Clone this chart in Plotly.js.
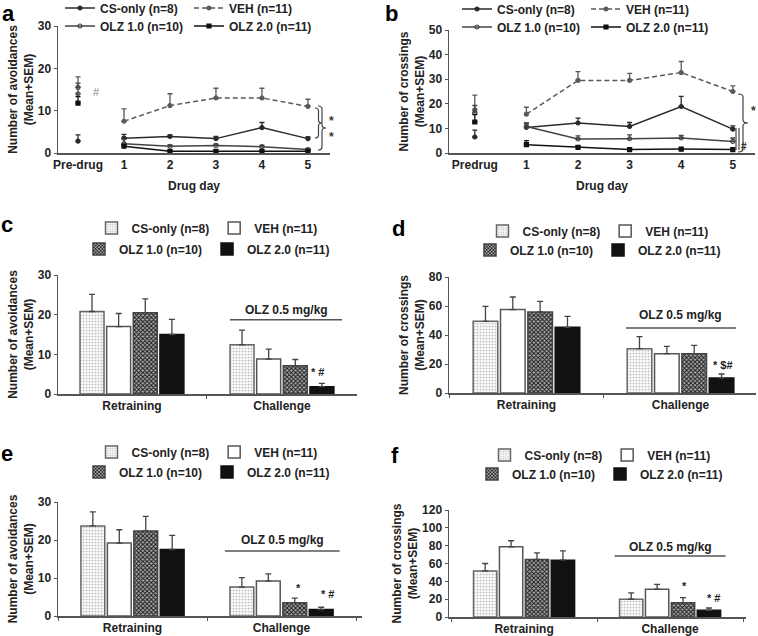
<!DOCTYPE html>
<html><head><meta charset="utf-8">
<script src="https://cdn.plot.ly/plotly-3.0.1.min.js"></script>
<style>html,body{margin:0;padding:0;background:#fff}</style>
</head><body>
<div id="chart" style="width:758px;height:636px"></div>
<script>
// ---------------- DATA ----------------
const groups = ['CS-only (n=8)', 'VEH (n=11)', 'OLZ 1.0 (n=10)', 'OLZ 2.0 (n=11)'];
const catsA = ['Pre-drug', '1', '2', '3', '4', '5'];
const catsB = ['Predrug', '1', '2', '3', '4', '5'];
const days = ['1', '2', '3', '4', '5'];
const phases = ['Retraining', 'Challenge'];

// Panel a: avoidances (order: CS-only, VEH, OLZ 1.0, OLZ 2.0)
const aPreMean = [2.8, 14.0, 15.5, 11.8];
const aPreSem  = [1.5, 4.0, 1.0, 1.5];
const aMean = [[3.5, 3.9, 3.4, 6.0, 3.4], [7.5, 11.2, 13.0, 13.0, 11.0], [2.2, 1.6, 1.8, 1.5, 0.8], [1.6, 0.4, 0.4, 0.4, 0.4]];
const aSem  = [[0.9, 0.4, 0.5, 1.2, 0.4], [2.9, 2.8, 2.3, 2.3, 1.7], [1.0, 0.3, 0.3, 0.3, 0.3], [0.4, 0.2, 0.2, 0.2, 0.2]];

// Panel b: crossings
const bPreMean = [6.5, 17.5, 16.3, 12.6];
const bPreSem  = [2.8, 6.0, 3.0, 3.0];
const bMean = [[10.4, 12.2, 10.8, 18.9, 9.7], [15.8, 29.5, 29.5, 32.7, 25.0], [10.8, 5.7, 5.8, 6.1, 4.7], [3.4, 2.3, 1.4, 1.6, 1.4]];
const bSem  = [[1.8, 2.0, 1.6, 4.1, 1.3], [2.8, 3.6, 2.9, 4.5, 2.3], [1.2, 1.3, 1.6, 1.1, 1.4], [1.6, 0.5, 0.5, 0.5, 0.5]];

// Panels c-f: bars [Retraining, Challenge] per group
const cMean = [[20.8, 12.4], [17.0, 8.8], [20.5, 7.1], [15.0, 1.85]];
const cSem  = [[4.3, 3.7], [3.3, 2.5], [3.5, 1.6], [3.8, 0.85]];
const dMean = [[49.4, 30.6], [57.5, 27.1], [55.9, 27.1], [45.3, 10.3]];
const dSem  = [[10.4, 8.3], [8.7, 5.1], [7.3, 5.8], [7.6, 2.8]];
const eMean = [[23.7, 7.6], [19.2, 9.2], [22.4, 3.5], [17.5, 1.7]];
const eSem  = [[3.7, 2.5], [3.5, 1.9], [3.8, 1.2], [3.7, 0.6]];
const fMean = [[51.7, 19.9], [78.7, 31.1], [64.5, 16.1], [63.7, 7.5]];
const fSem  = [[8.3, 7.1], [6.8, 5.6], [7.5, 5.6], [10.5, 2.6]];

// ---------------- STYLE ----------------
const W = 758, H = 636;
const X = p => p / W, Y = p => 1 - p / H;
const FONT = 'Liberation Sans, Arial, Helvetica, sans-serif';
const fnt = (size, color, weight) => ({family: FONT, size: size, color: color || '#222', weight: weight || 'bold'});
const AX = '#555';
const lineColors = ['#2a2a2a', '#5a5a5a', '#444', '#111'];
const symbols = ['circle', 'circle', 'circle-open', 'square'];

function errBar(arr, color, width) {
  return {type: 'data', array: arr, symmetric: false, arrayminus: arr.map(() => 0),
          color: color, thickness: 1.3, width: width};
}

function lineTraces(xa, ya, preCat, preMean, preSem, mean, sem, legA, legB) {
  const out = [];
  groups.forEach((g, i) => {
    const mk = {symbol: symbols[i], size: 4, color: lineColors[i], line: {color: lineColors[i], width: 1.2}};
    out.push({type: 'scatter', mode: 'lines+markers', x: days, y: mean[i], xaxis: xa, yaxis: ya,
      name: g, legend: i < 2 ? legA : legB,
      line: {color: lineColors[i], width: 1.5, dash: i === 1 ? '5px,3px' : 'solid'},
      marker: mk, error_y: errBar(sem[i], lineColors[i], 2.5), cliponaxis: false});
    out.push({type: 'scatter', mode: 'markers', x: [preCat], y: [preMean[i]], xaxis: xa, yaxis: ya,
      showlegend: false, marker: mk, error_y: errBar([preSem[i]], lineColors[i], 2.5), cliponaxis: false});
  });
  return out;
}

const barMarkers = [
  {color: '#fff', line: {color: '#666', width: 1.5}, pattern: {shape: '.', fgcolor: '#b8b8b8', bgcolor: '#f8f8f8', size: 3, solidity: 0.25}},
  {color: '#fff', line: {color: '#555', width: 1.5}},
  {color: '#555', line: {color: '#444', width: 1.5}, pattern: {shape: 'x', fgcolor: '#1a1a1a', bgcolor: '#aaa', size: 3, solidity: 0.55}},
  {color: '#111', line: {color: '#111', width: 1.5}}
];

function barTraces(xa, ya, mean, sem, legA, legB) {
  return groups.map((g, i) => ({type: 'bar', x: phases, y: mean[i], xaxis: xa, yaxis: ya,
    name: g, legend: i < 2 ? legA : legB, marker: barMarkers[i],
    error_y: errBar(sem[i], '#444', 3), cliponaxis: false}));
}

const data = [].concat(
  lineTraces('x', 'y', catsA[0], aPreMean, aPreSem, aMean, aSem, 'legend', 'legend2'),
  lineTraces('x2', 'y2', catsB[0], bPreMean, bPreSem, bMean, bSem, 'legend3', 'legend4'),
  barTraces('x3', 'y3', cMean, cSem, 'legend5', 'legend6'),
  barTraces('x4', 'y4', dMean, dSem, 'legend7', 'legend8'),
  barTraces('x5', 'y5', eMean, eSem, 'legend9', 'legend10'),
  barTraces('x6', 'y6', fMean, fSem, 'legend11', 'legend12')
);

function xAxis(x0, x1, yAnchor, range, cats, bar, title) {
  const ax = {domain: [X(x0), X(x1)], anchor: yAnchor, type: 'category', categoryorder: 'array', categoryarray: cats,
    range: range, showline: true, linecolor: AX, linewidth: 1.5, showgrid: false, zeroline: false,
    tickfont: fnt(12), fixedrange: true, automargin: false};
  if (bar) { ax.ticks = 'outside'; ax.tickson = 'boundaries'; ax.ticklen = 3; ax.tickcolor = AX; }
  else { ax.ticks = ''; }
  if (title) ax.title = {text: title, font: fnt(12), standoff: 10};
  return ax;
}
function yAxis(top, bottom, xAnchor, range, dtick, title) {
  return {domain: [Y(bottom), Y(top)], anchor: xAnchor, range: range, dtick: dtick, tick0: 0,
    showline: true, linecolor: AX, linewidth: 1.5, showgrid: false, zeroline: false,
    ticks: 'outside', ticklen: 3, tickcolor: AX, tickfont: fnt(12), fixedrange: true, automargin: false,
    title: {text: title, font: fnt(12)}};
}

function leg(xpx, ypx, xanchor, entrywidth) {
  const l = {x: X(xpx), y: Y(ypx), xanchor: xanchor, yanchor: 'middle', orientation: 'h',
    font: fnt(12), bgcolor: 'rgba(0,0,0,0)', borderwidth: 0, itemwidth: 30, traceorder: 'normal'};
  if (entrywidth) l.entrywidth = entrywidth;
  return l;
}

function bracePath(x, y0, y1, w) {
  const xm = x + w / 2, xt = x + w, ym = (y0 + y1) / 2, r = 3;
  const P = (a, b) => X(a).toFixed(5) + ',' + Y(b).toFixed(5);
  return 'M' + P(x, y0) + ' Q' + P(xm, y0) + ' ' + P(xm, y0 + r) + ' L' + P(xm, ym - r) +
    ' Q' + P(xm, ym) + ' ' + P(xt, ym) + ' Q' + P(xm, ym) + ' ' + P(xm, ym + r) +
    ' L' + P(xm, y1 - r) + ' Q' + P(xm, y1) + ' ' + P(x, y1);
}

const pann = (txt, xp, yp, size, color, weight) => ({text: txt, xref: 'paper', yref: 'paper', x: X(xp), y: Y(yp),
  xanchor: 'center', yanchor: 'middle', showarrow: false, font: fnt(size, color || '#000', weight)});
const topLetter = (txt, xp) => ({text: txt, xref: 'paper', yref: 'paper', x: X(xp), y: 1,
  xanchor: 'center', yanchor: 'top', showarrow: false, borderpad: 0, font: fnt(22, '#000')});
const dann = (txt, xa, ya, x, y, size) => ({text: txt, xref: xa, yref: ya, x: x, y: y,
  xanchor: 'center', yanchor: 'middle', showarrow: false, font: fnt(size || 12, '#222')});

const annotations = [
  topLetter('a', 8), topLetter('b', 391), pann('c', 7, 225, 22),
  pann('d', 398, 229, 22), pann('e', 7, 453, 22), pann('f', 395, 455, 22),
  pann('#', 96, 92, 11, '#888', 'normal'),
  pann('*', 331, 121, 12, '#333'), pann('*', 331, 137, 12, '#333'),
  pann('*', 753, 111, 12, '#333'), pann('#', 744, 146, 10, '#333'),
  dann('OLZ 0.5 mg/kg', 'x3', 'y3', 1.027, 21.3), dann('OLZ 0.5 mg/kg', 'x4', 'y4', 1.003, 53.8),
  dann('OLZ 0.5 mg/kg', 'x5', 'y5', 1.005, 20.0), dann('OLZ 0.5 mg/kg', 'x6', 'y6', 1.0, 78.5),
  dann('* #', 'x3', 'y3', 1.24, 5.5, 11), dann('* $#', 'x4', 'y4', 1.276, 19.3, 11),
  dann('*', 'x5', 'y5', 1.117, 7.4, 11), dann('* #', 'x5', 'y5', 1.31, 5.8, 11),
  dann('*', 'x6', 'y6', 1.096, 34.8, 11), dann('* #', 'x6', 'y6', 1.295, 21.3, 11)
];

const sline = (xa, ya, x0, x1, y) => ({type: 'line', xref: xa, yref: ya, x0: x0, x1: x1, y0: y, y1: y,
  line: {color: '#555', width: 1.5}});
const shapes = [
  sline('x3', 'y3', 0.653, 1.40, 18.7), sline('x4', 'y4', 0.646, 1.36, 44.8),
  sline('x5', 'y5', 0.62, 1.39, 17.1), sline('x6', 'y6', 0.62, 1.38, 68.4),
  {type: 'path', xref: 'paper', yref: 'paper', path: bracePath(315, 108, 138, 7), line: {color: '#444', width: 1.2}},
  {type: 'path', xref: 'paper', yref: 'paper', path: bracePath(318, 106, 150, 8), line: {color: '#444', width: 1.2}},
  {type: 'path', xref: 'paper', yref: 'paper', path: bracePath(738, 94, 152, 10), line: {color: '#444', width: 1.2}},
  {type: 'line', xref: 'paper', yref: 'paper', x0: X(736), x1: X(736), y0: Y(128), y1: Y(150), line: {color: '#444', width: 1.2}},
  {type: 'line', xref: 'paper', yref: 'paper', x0: X(739), x1: X(739), y0: Y(128), y1: Y(150), line: {color: '#444', width: 1.2}}
];

const layout = {
  width: W, height: H, margin: {l: 0, r: 0, t: 0, b: 0, autoexpand: false},
  paper_bgcolor: '#fff', plot_bgcolor: 'rgba(0,0,0,0)',
  font: fnt(12), barmode: 'group', bargap: 0.29, bargroupgap: 0.1, hovermode: false,
  xaxis: xAxis(58, 330, 'y', [-0.435, 5.48], catsA, false, 'Drug day'),
  yaxis: yAxis(26, 153, 'x', [0, 30], 10, 'Number of avoidances<br>(Mean+SEM)'),
  xaxis2: xAxis(449, 755, 'y2', [-0.5, 5.43], catsB, false, 'Drug day'),
  yaxis2: yAxis(30, 153, 'x2', [0, 50], 10, 'Number of crossings<br>(Mean+SEM)'),
  xaxis3: xAxis(58, 357, 'y3', [-0.493, 1.5], phases, true),
  yaxis3: yAxis(275, 394, 'x3', [0, 30], 10, 'Number of avoidances<br>(Mean+SEM)'),
  xaxis4: xAxis(449, 756, 'y4', [-0.503, 1.49], phases, true),
  yaxis4: yAxis(277, 393, 'x4', [0, 80], 20, 'Number of crossings<br>(Mean+SEM)'),
  xaxis5: xAxis(58, 362, 'y5', [-0.5, 1.54], phases, true),
  yaxis5: yAxis(502, 616, 'x5', [0, 30], 10, 'Number of avoidances<br>(Mean+SEM)'),
  xaxis6: xAxis(449, 746, 'y6', [-0.514, 1.52], phases, true),
  yaxis6: yAxis(510, 617, 'x6', [0, 120], 20, 'Number of crossings<br>(Mean+SEM)'),
  legend: leg(60, 8, 'left', 84), legend2: leg(60, 26, 'left', 84),
  legend3: leg(457, 9, 'left', 84), legend4: leg(457, 27, 'left', 84),
  legend5: leg(207, 228, 'center'), legend6: leg(207, 249, 'center'),
  legend7: leg(598, 231, 'center'), legend8: leg(598, 250, 'center'),
  legend9: leg(207, 452, 'center'), legend10: leg(207, 472, 'center'),
  legend11: leg(600, 455, 'center'), legend12: leg(600, 474, 'center'),
  annotations: annotations, shapes: shapes
};

Plotly.newPlot('chart', data, layout, {displayModeBar: false, staticPlot: true});
</script></body></html>
